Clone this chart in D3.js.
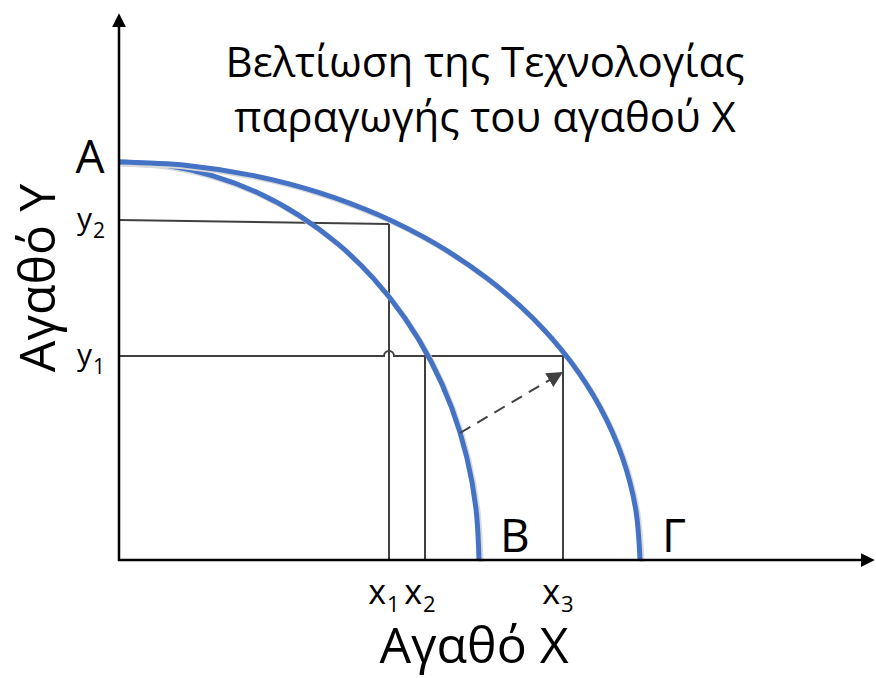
<!DOCTYPE html>
<html>
<head>
<meta charset="utf-8">
<script src="https://cdn.jsdelivr.net/npm/d3@7"></script>
<style>
  body { margin: 0; background: #fff; }
  text { font-family: "Open Sans", "Noto Sans", sans-serif; fill: #000; }
</style>
</head>
<body>
<div id="chart"></div>
<script>
// data (1 unit = 10 px)
var curveAB = [[0, 39.8], [4.70, 39.46], [9.32, 38.44], [13.78, 36.77], [18.0, 34.47],
               [21.92, 31.58], [25.46, 28.14], [28.56, 24.23], [31.18, 19.9], [33.26, 15.23],
               [34.77, 10.3], [35.69, 5.19], [36.0, 0]];
var curveAG = [[0, 39.8], [6.80, 39.46], [13.48, 38.44], [19.94, 36.77], [26.05, 34.47],
               [31.72, 31.58], [36.84, 28.14], [41.34, 24.23], [45.12, 19.9], [48.13, 15.23],
               [50.32, 10.3], [51.65, 5.19], [52.1, 0]];
var xTicks = [{ name: "x", sub: "1", v: 27.0 }, { name: "x", sub: "2", v: 30.6 }, { name: "x", sub: "3", v: 44.4 }];
var yTicks = [{ name: "y", sub: "2", v: 34.0 }, { name: "y", sub: "1", v: 20.4 }];
var y2Line = [[0, 34.0], [27.0, 33.6]];
var y1Line = [[0, 20.4], [44.4, 20.4]];
var shiftArrow = [[34.1, 12.7], [44.4, 18.8]];
var pointLabels = [{ t: "A", x: -2.9, y: 38.7 }, { t: "B", x: 38.1, y: 0.8 }, { t: "Γ", x: 54.3, y: 0.8 }];
var titleLines = ["Βελτίωση της Τεχνολογίας", "παραγωγής του αγαθού X"];

var width = 876, height = 678;
var svg = d3.select("#chart").append("svg")
    .attr("width", width)
    .attr("height", height);

var x = d3.scaleLinear().domain([0, 74]).range([119, 859]);
var y = d3.scaleLinear().domain([0, 54]).range([560, 20]);

var defs = svg.append("defs");
defs.append("marker")
    .attr("id", "axisHead")
    .attr("viewBox", "0 0 10 10")
    .attr("refX", 0).attr("refY", 5)
    .attr("markerWidth", 5.5).attr("markerHeight", 6.5)
    .attr("markerUnits", "strokeWidth")
    .attr("orient", "auto")
    .append("path").attr("d", "M0,0 L10,5 L0,10 Z").attr("fill", "#000");
defs.append("marker")
    .attr("id", "dashHead")
    .attr("viewBox", "0 0 10 10")
    .attr("refX", 10).attr("refY", 5)
    .attr("markerWidth", 8).attr("markerHeight", 8)
    .attr("markerUnits", "strokeWidth")
    .attr("orient", "auto")
    .append("path").attr("d", "M0,0 L10,5 L0,10 Z").attr("fill", "#404040");

// guide lines
var guide = svg.append("g")
    .attr("stroke", "#404040")
    .attr("stroke-width", 2)
    .attr("fill", "none");

guide.append("line")
    .attr("x1", x(y2Line[0][0])).attr("y1", y(y2Line[0][1]))
    .attr("x2", x(y2Line[1][0])).attr("y2", y(y2Line[1][1]));

// x1 vertical from y2 line down
guide.append("line")
    .attr("x1", x(xTicks[0].v)).attr("y1", y(y2Line[1][1]))
    .attr("x2", x(xTicks[0].v)).attr("y2", y(0));
guide.append("line")
    .attr("x1", x(xTicks[1].v)).attr("y1", y(y1Line[0][1]))
    .attr("x2", x(xTicks[1].v)).attr("y2", y(0));
guide.append("line")
    .attr("x1", x(xTicks[2].v)).attr("y1", y(y1Line[1][1]))
    .attr("x2", x(xTicks[2].v)).attr("y2", y(0));

// y1 line with small hop over the x1 line
var hx = x(xTicks[0].v), hy = y(y1Line[0][1]), r = 5;
guide.append("path")
    .attr("d", "M" + x(y1Line[0][0]) + "," + hy +
        " L" + (hx - r) + "," + hy +
        " A" + r + "," + r + " 0 0 1 " + (hx + r) + "," + hy +
        " L" + x(y1Line[1][0]) + "," + hy);

// PPF curves
var line = d3.line()
    .x(d => x(d[0]))
    .y(d => y(d[1]))
    .curve(d3.curveCatmullRom.alpha(0.5));

[curveAB, curveAG].forEach(function (c) {
    svg.append("path")
        .attr("d", line(c))
        .attr("transform", "translate(2,2)")
        .attr("fill", "none")
        .attr("stroke", "#d9d9d9")
        .attr("stroke-width", 5);
    svg.append("path")
        .attr("d", line(c))
        .attr("fill", "none")
        .attr("stroke", "#4472c4")
        .attr("stroke-width", 5);
});

// dashed shift arrow
svg.append("line")
    .attr("x1", x(shiftArrow[0][0])).attr("y1", y(shiftArrow[0][1]))
    .attr("x2", x(shiftArrow[1][0])).attr("y2", y(shiftArrow[1][1]))
    .attr("stroke", "#404040")
    .attr("stroke-width", 2)
    .attr("stroke-dasharray", "12,8")
    .attr("marker-end", "url(#dashHead)");

// axes
svg.append("line")
    .attr("x1", x(0)).attr("y1", y(0) + 1)
    .attr("x2", x(0)).attr("y2", 27)
    .attr("stroke", "#000").attr("stroke-width", 2.5)
    .attr("marker-end", "url(#axisHead)");
svg.append("line")
    .attr("x1", x(0) - 1).attr("y1", y(0))
    .attr("x2", 861).attr("y2", y(0))
    .attr("stroke", "#000").attr("stroke-width", 2.5)
    .attr("marker-end", "url(#axisHead)");

// tick labels: letter and subscript as separate texts
xTicks.forEach(function (d) {
    svg.append("text")
        .attr("x", x(d.v) - 3)
        .attr("y", 604)
        .attr("text-anchor", "end")
        .style("font-size", "34px")
        .text(d.name);
    svg.append("text")
        .attr("x", x(d.v) - 2)
        .attr("y", 612)
        .attr("text-anchor", "start")
        .style("font-size", "22px")
        .text(d.sub);
});
yTicks.forEach(function (d) {
    svg.append("text")
        .attr("x", 92)
        .attr("y", y(d.v) + 9)
        .attr("text-anchor", "end")
        .style("font-size", "30px")
        .text(d.name);
    svg.append("text")
        .attr("x", 93)
        .attr("y", y(d.v) + 18)
        .attr("text-anchor", "start")
        .style("font-size", "21px")
        .text(d.sub);
});

// point labels
pointLabels.forEach(function (d) {
    svg.append("text")
        .attr("x", x(d.x))
        .attr("y", y(d.y))
        .attr("text-anchor", d.t === "A" ? "middle" : "start")
        .style("font-size", "46px")
        .text(d.t);
});

// title
titleLines.forEach(function (s, i) {
    svg.append("text")
        .attr("x", 485)
        .attr("y", 77 + i * 55)
        .attr("text-anchor", "middle")
        .style("font-size", "42px")
        .text(s);
});

// axis titles
svg.append("text")
    .attr("x", 474)
    .attr("y", 663)
    .attr("text-anchor", "middle")
    .style("font-size", "50px")
    .text("Αγαθό X");
svg.append("text")
    .attr("transform", "translate(55,278) rotate(-90)")
    .attr("text-anchor", "middle")
    .style("font-size", "50px")
    .text("Αγαθό Y");
</script>
</body>
</html>
